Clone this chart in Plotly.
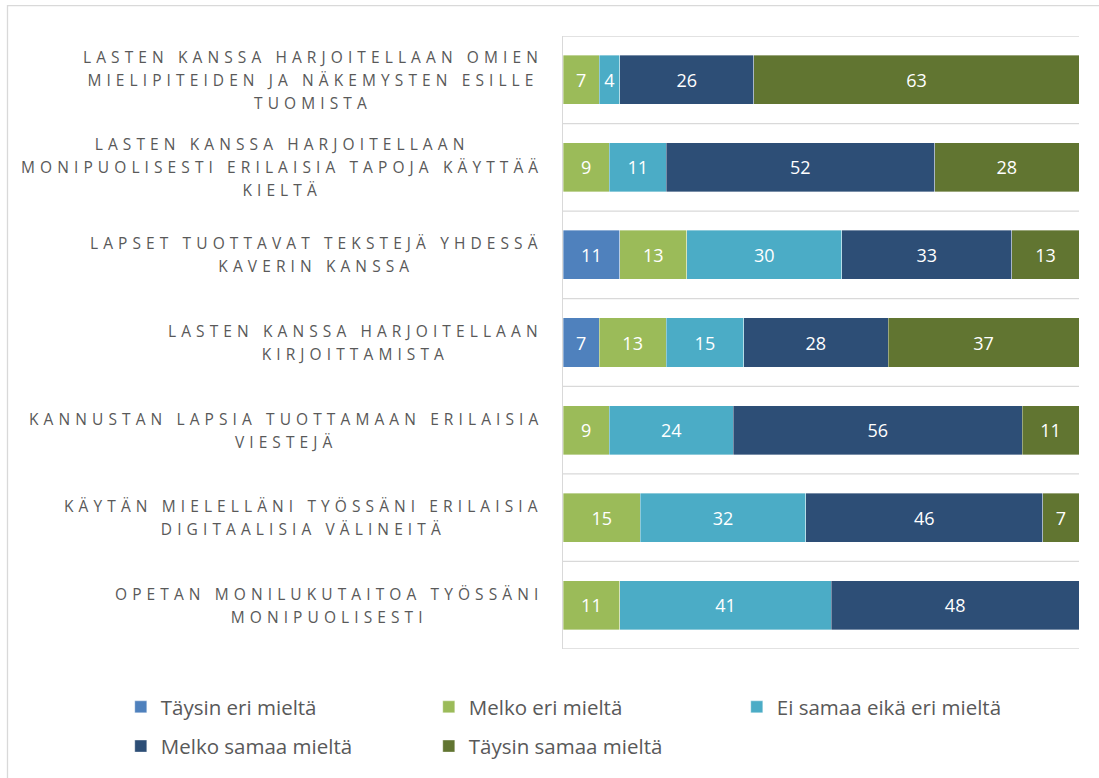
import plotly.graph_objects as go

categories = [
    "LASTEN KANSSA HARJOITELLAAN OMIEN<br>MIELIPITEIDEN JA NÄKEMYSTEN ESILLE<br>TUOMISTA",
    "LASTEN KANSSA HARJOITELLAAN<br>MONIPUOLISESTI ERILAISIA TAPOJA KÄYTTÄÄ<br>KIELTÄ",
    "LAPSET TUOTTAVAT TEKSTEJÄ YHDESSÄ<br>KAVERIN KANSSA",
    "LASTEN KANSSA HARJOITELLAAN<br>KIRJOITTAMISTA",
    "KANNUSTAN LAPSIA TUOTTAMAAN ERILAISIA<br>VIESTEJÄ",
    "KÄYTÄN MIELELLÄNI TYÖSSÄNI ERILAISIA<br>DIGITAALISIA VÄLINEITÄ",
    "OPETAN MONILUKUTAITOA TYÖSSÄNI<br>MONIPUOLISESTI",
]

series_names = [
    "Täysin eri mieltä",
    "Melko eri mieltä",
    "Ei samaa eikä eri mieltä",
    "Melko samaa mieltä",
    "Täysin samaa mieltä",
]

taysin_eri = [0, 0, 11, 7, 0, 0, 0]
melko_eri = [7, 9, 13, 13, 9, 15, 11]
ei_samaa_eika_eri = [4, 11, 30, 15, 24, 32, 41]
melko_samaa = [26, 52, 33, 28, 56, 46, 48]
taysin_samaa = [63, 28, 13, 37, 11, 7, 0]

series_values = [taysin_eri, melko_eri, ei_samaa_eika_eri, melko_samaa, taysin_samaa]
colors = ["#4F81BD", "#9BBB59", "#4BACC6", "#2D4E76", "#617531"]

FONT = "Open Sans"
GRAY = "#595959"
ids = list(range(len(categories)))

fig = go.Figure()
for i, (name, vals, col) in enumerate(zip(series_names, series_values, colors)):
    fig.add_trace(go.Bar(
        y=ids, x=vals, name=name, orientation="h",
        marker=dict(color=col, line=dict(color="rgba(255,255,255,0.6)", width=0.6)),
        text=[str(v) if v else "" for v in vals],
        textposition="inside", insidetextanchor="middle",
        textfont=dict(color="white", size=18, family=FONT),
        constraintext="none",
        legend="legend" if i < 3 else "legend2",
        hoverinfo="skip",
    ))

# category labels with letter spacing, centered lines, right-aligned block
annotations = []
for i, cat in enumerate(categories):
    lines = cat.split("<br>")
    txt = "<br>".join(
        f'<span style="font-size:15.5px;letter-spacing:5.1px">{ln}</span>' for ln in lines
    )
    annotations.append(dict(
        x=(545 - 563) / 516, xref="paper", xanchor="right",
        y=i, yref="y", yanchor="middle",
        text=txt, showarrow=False, align="center",
        font=dict(family=FONT, size=17.7, color=GRAY),
    ))

legend_common = dict(orientation="h", x=-0.857, xanchor="left", yanchor="top",
                     entrywidth=263, entrywidthmode="pixels",
                     font=dict(family=FONT, size=20.5, color=GRAY), traceorder="normal")

fig.update_layout(
    width=1099, height=778,
    margin=dict(l=563, r=20, t=36, b=127),
    paper_bgcolor="white", plot_bgcolor="white",
    barmode="stack", bargap=0.44,
    font=dict(family=FONT, color=GRAY),
    xaxis=dict(range=[0, 100], showgrid=False, showticklabels=False, zeroline=False,
               showline=False, fixedrange=True),
    yaxis=dict(range=[6.5, -0.5], tickmode="array", tickvals=ids, ticktext=[""] * 7,
               showticklabels=False, showgrid=False,
               showline=True, linecolor="#D9D9D9", linewidth=1.3, zeroline=False,
               ticks=""),
    annotations=annotations,
    legend=dict(legend_common, y=-0.062),
    legend2=dict(legend_common, y=-0.126),
    shapes=[
        dict(type="rect", xref="paper", yref="paper",
             x0=(7.5 - 563) / 516, x1=(1300 - 563) / 516,
             y0=(651 - 5.5) / 615, y1=(651 - 900) / 615,
             line=dict(color="#D9D9D9", width=1.3), fillcolor="rgba(0,0,0,0)",
             layer="below"),
    ],
)

# gridlines at category boundaries
for b in [k - 0.5 for k in range(len(categories) + 1)]:
    fig.add_shape(type="line", xref="paper", yref="y", x0=0, x1=1, y0=b, y1=b,
                  line=dict(color="#D9D9D9", width=1.3), layer="below")

fig.write_html("out.html")
